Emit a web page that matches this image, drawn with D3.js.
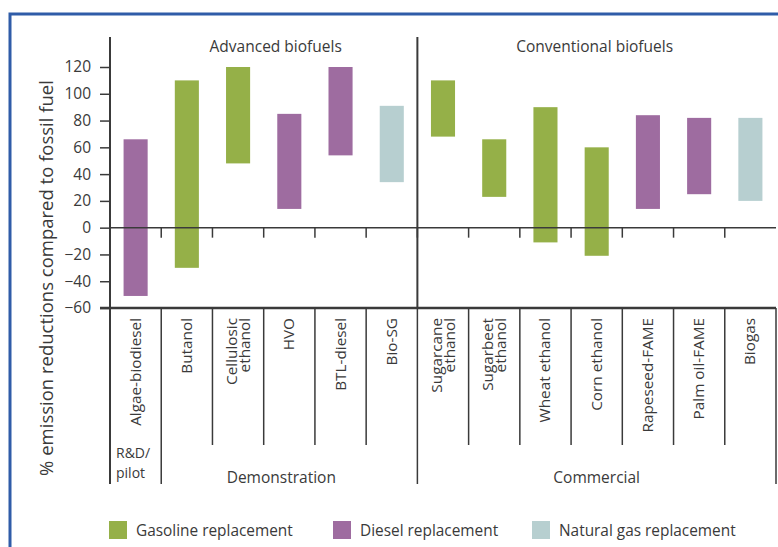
<!DOCTYPE html>
<html>
<head>
<meta charset="utf-8">
<script src="https://cdn.jsdelivr.net/npm/d3@7"></script>
<style>
  body { margin: 0; background: #fff; }
  text { font-family: "Open Sans", sans-serif; fill: #3a3a3a; }
</style>
</head>
<body>
<div id="chart"></div>
<script>
const categories = ["Algae-biodiesel", "Butanol", "Cellulosic\nethanol", "HVO", "BTL-diesel", "Bio-SG",
  "Sugarcane\nethanol", "Sugarbeet\nethanol", "Wheat ethanol", "Corn ethanol", "Rapeseed-FAME", "Palm oil-FAME", "Biogas"];
const highs = [66, 110, 120, 85, 120, 91, 110, 66, 90, 60, 84, 82, 82];
const lows = [-51, -30, 48, 14, 54, 34, 68, 23, -11, -21, 14, 25, 20];
const fuelType = ["diesel", "gasoline", "gasoline", "diesel", "diesel", "gas",
  "gasoline", "gasoline", "gasoline", "gasoline", "diesel", "diesel", "gas"];
const yTicks = [120, 100, 80, 60, 40, 20, 0, -20, -40, -60];
const biofuelGroups = [
  { label: "Advanced biofuels", first: 0, last: 5 },
  { label: "Conventional biofuels", first: 6, last: 12 }
];
const stages = [
  { label: "R&D/\npilot", first: 0, last: 0 },
  { label: "Demonstration", first: 1, last: 5 },
  { label: "Commercial", first: 6, last: 12 }
];
const legendItems = [
  { key: "gasoline", label: "Gasoline replacement" },
  { key: "diesel", label: "Diesel replacement" },
  { key: "gas", label: "Natural gas replacement" }
];

const width = 778, height = 547;
const margin = { top: 67, bottom: 239, left: 110, right: 2 };
const plotBottom = height - margin.bottom; // y of -60

const svg = d3.select("#chart").append("svg")
  .attr("width", width)
  .attr("height", height);

// blue frame
svg.append("path")
  .attr("d", `M10,${height} L10,14 L${width},14`)
  .attr("fill", "none")
  .attr("stroke", "#2f5ca8")
  .attr("stroke-width", 3);

const x = d3.scaleBand()
  .domain(categories)
  .range([margin.left, width - margin.right]);

const y = d3.scaleLinear()
  .domain([-60, 120])
  .range([plotBottom, margin.top]);

const color = d3.scaleOrdinal()
  .domain(["gasoline", "diesel", "gas"])
  .range(["#95b048", "#9e6ca0", "#b7cfd0"]);

const barW = x.bandwidth() * 0.47;

// bars
svg.append("g").selectAll("rect")
  .data(categories)
  .enter()
  .append("rect")
  .attr("x", d => x(d) + (x.bandwidth() - barW) / 2)
  .attr("y", (d, i) => y(highs[i]))
  .attr("width", barW)
  .attr("height", (d, i) => y(lows[i]) - y(highs[i]))
  .attr("fill", (d, i) => color(fuelType[i]));

const axisColor = "#3a3a3a";
const lowLine = 445, stageBottom = 484, topLine = 37;

// y axis
const yAxis = svg.append("g")
  .attr("transform", `translate(${margin.left},0)`)
  .call(d3.axisLeft(y).tickValues(yTicks).tickSize(10).tickPadding(9));
yAxis.select(".domain").remove();
yAxis.selectAll("line").attr("stroke", axisColor).attr("stroke-width", 1.5);
yAxis.selectAll("text")
  .style("font-size", "15.5px")
  .style("font-family", "'Open Sans', sans-serif")
  .attr("fill", axisColor);

svg.append("line")
  .attr("x1", margin.left).attr("x2", margin.left)
  .attr("y1", topLine).attr("y2", stageBottom)
  .attr("stroke", axisColor).attr("stroke-width", 2);

// zero line with category ticks
svg.append("line")
  .attr("x1", margin.left).attr("x2", width - margin.right)
  .attr("y1", y(0)).attr("y2", y(0))
  .attr("stroke", axisColor).attr("stroke-width", 1.5);

svg.append("g").selectAll("line")
  .data(categories.slice(1))
  .enter()
  .append("line")
  .attr("x1", d => x(d)).attr("x2", d => x(d))
  .attr("y1", y(0)).attr("y2", y(0) + 10)
  .attr("stroke", axisColor).attr("stroke-width", 1.5);

// bottom axis
svg.append("line")
  .attr("x1", margin.left - 10).attr("x2", width - margin.right)
  .attr("y1", plotBottom).attr("y2", plotBottom)
  .attr("stroke", axisColor).attr("stroke-width", 2.5);

// separators below the axis
svg.append("g").selectAll("line")
  .data(categories.slice(1))
  .enter()
  .append("line")
  .attr("x1", d => x(d)).attr("x2", d => x(d))
  .attr("y1", plotBottom)
  .attr("y2", (d, i) => (i === 0 || i === 5) ? stageBottom : lowLine)
  .attr("stroke", axisColor).attr("stroke-width", 1.5);

svg.append("line")
  .attr("x1", width - margin.right).attr("x2", width - margin.right)
  .attr("y1", plotBottom).attr("y2", stageBottom)
  .attr("stroke", axisColor).attr("stroke-width", 1.5);

// divider between advanced and conventional
svg.append("line")
  .attr("x1", x(categories[6])).attr("x2", x(categories[6]))
  .attr("y1", topLine).attr("y2", plotBottom)
  .attr("stroke", axisColor).attr("stroke-width", 2);

// category labels
const catLabels = svg.append("g").selectAll("text")
  .data(categories)
  .enter()
  .append("text")
  .attr("transform", d => `translate(${x(d) + x.bandwidth() / 2},${plotBottom + 10}) rotate(-90)`)
  .attr("text-anchor", "end")
  .style("font-size", "15.3px");

catLabels.each(function(d) {
  const lines = d.split("\n");
  const el = d3.select(this);
  lines.forEach((ln, j) => {
    el.append("tspan")
      .attr("x", 0)
      .attr("y", (j - (lines.length - 1) / 2) * 13 + 5)
      .text(ln);
  });
});

// group titles on top
const groupShift = [12, -2];
svg.append("g").selectAll("text")
  .data(biofuelGroups)
  .enter()
  .append("text")
  .attr("x", (d, i) => (x(categories[d.first]) + x(categories[d.last]) + x.bandwidth()) / 2 + groupShift[i])
  .attr("y", 52)
  .attr("text-anchor", "middle")
  .style("font-size", "15.5px")
  .text(d => d.label);

// stage labels, one text per line
const stageShift = [0, -8, 0];
const stageLines = [];
stages.forEach((d, i) => {
  const lines = d.label.split("\n");
  const single = d.first === d.last;
  const cx = single ? x(categories[d.first]) + 6
    : (x(categories[d.first]) + x(categories[d.last]) + x.bandwidth()) / 2 + stageShift[i];
  lines.forEach((ln, j) => {
    stageLines.push({
      text: ln, x: cx,
      y: lines.length > 1 ? 458 + j * 19.5 : 483,
      anchor: single ? "start" : "middle",
      size: lines.length > 1 ? 14 : 15.5
    });
  });
});

svg.append("g").selectAll("text")
  .data(stageLines)
  .enter()
  .append("text")
  .attr("x", d => d.x)
  .attr("y", d => d.y)
  .attr("text-anchor", d => d.anchor)
  .style("font-size", d => d.size + "px")
  .text(d => d.text);

// y axis title
svg.append("text")
  .attr("transform", `translate(53,278) rotate(-90)`)
  .attr("text-anchor", "middle")
  .style("font-size", "18.5px")
  .text("% emission reductions compared to fossil fuel");

// legend
const legendX = [109, 333, 532];
const legend = svg.append("g").selectAll("g")
  .data(legendItems)
  .enter()
  .append("g")
  .attr("transform", (d, i) => `translate(${legendX[i]},521)`);

legend.append("rect")
  .attr("width", 18)
  .attr("height", 18)
  .attr("fill", d => color(d.key));

legend.append("text")
  .attr("x", 27)
  .attr("y", 15)
  .style("font-size", "15.4px")
  .text(d => d.label);
</script>
</body>
</html>
